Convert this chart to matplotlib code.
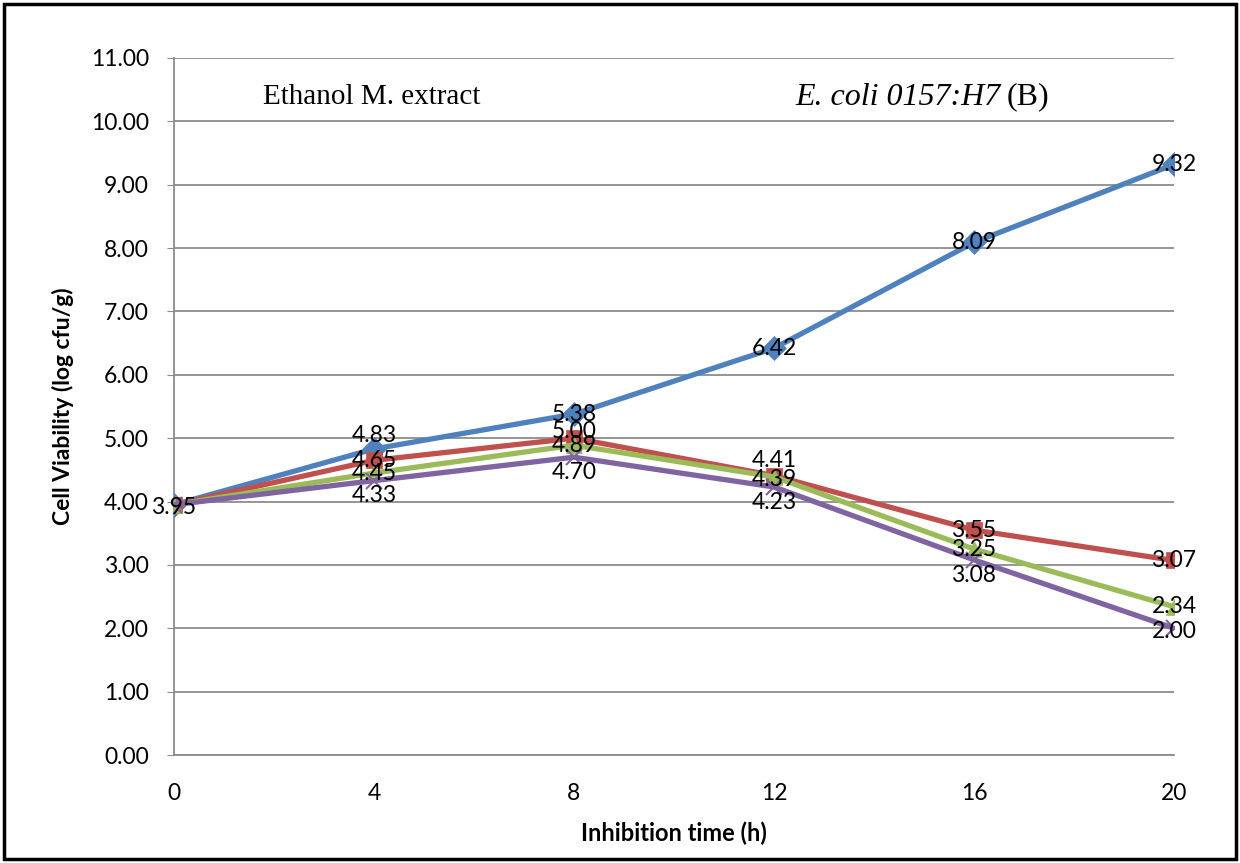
import matplotlib.pyplot as plt
from matplotlib.patches import Rectangle

# data
hours = [0, 4, 8, 12, 16, 20]
blue_vals = [3.95, 4.83, 5.38, 6.42, 8.09, 9.32]
red_vals = [3.95, 4.65, 5.00, 4.41, 3.55, 3.07]
green_vals = [3.95, 4.45, 4.89, 4.39, 3.25, 2.34]
purple_vals = [3.95, 4.33, 4.70, 4.23, 3.08, 2.00]
y_ticks = [i for i in range(12)]

# colour and marker of each series
series = [
    (blue_vals, '#4F81BD', 'D'),
    (red_vals, '#C0504D', 's'),
    (green_vals, '#9BBB59', '^'),
    (purple_vals, '#8064A2', 'x'),
]
# vertical label offsets in points (None = no label, shared start point)
offsets = [
    [-2, 10, 0, 0, 0, 0],
    [None, 0, 5, 11, 0, 0],
    [None, 0, 0, -2, 0, 0],
    [None, -11, -11, -11, -11, -2],
]

fig = plt.figure(figsize=(12.4, 8.63), dpi=100)
ax = fig.add_axes([174 / 1240, 1 - 755 / 863, 1000 / 1240, 697 / 863])

for (vals, col, mk), offs in zip(series, offsets):
    ax.plot(hours, vals, color=col, lw=3.8, marker=mk, markersize=12 if mk != 'x' else 12,
            markeredgewidth=1.5 if mk == 'x' else 0.5, markeredgecolor=col, zorder=3)
    for x, v, o in zip(hours, vals, offs):
        if o is None:
            continue
        ax.annotate('%.2f' % v, (x, v), xytext=(0, o), textcoords='offset points',
                    ha='center', va='center', fontsize=16.5, family='Lato', zorder=5)

ax.set_xlim(0, 20)
ax.set_ylim(0, 11)
ax.set_xticks(hours)
ax.set_yticks(y_ticks)
ax.set_yticklabels(['%.2f' % t for t in y_ticks])
ax.yaxis.grid(True, color='#8c8c8c', lw=1.3)
ax.set_axisbelow(True)
for s in ['top', 'right']:
    ax.spines[s].set_visible(False)
for s in ['left', 'bottom']:
    ax.spines[s].set_color('#8c8c8c')
    ax.spines[s].set_linewidth(1.3)
ax.tick_params(axis='y', length=5, color='#8c8c8c', labelsize=16.5, pad=13)
ax.tick_params(axis='x', length=0, labelsize=16.5, pad=20)
for lab in ax.get_xticklabels() + ax.get_yticklabels():
    lab.set_family('Lato')

ax.set_xlabel('Inhibition time (h)', fontsize=17, fontweight='bold', family='Lato', labelpad=13)
ax.set_ylabel('Cell Viability (log cfu/g)', fontsize=16.5, fontweight='bold', family='Lato', labelpad=12)

ax.text(0.089, 0.944, 'Ethanol M. extract', transform=ax.transAxes, fontsize=21,
        family='Liberation Serif', va='center')
t = ax.text(0.621, 0.944, 'E. coli 0157:H7', transform=ax.transAxes, fontsize=23,
            family='Liberation Serif', style='italic', va='center')
fig.canvas.draw()
bb = t.get_window_extent().transformed(ax.transAxes.inverted())
ax.text(bb.x1 + 0.006, 0.944, '(B)', transform=ax.transAxes, fontsize=23,
        family='Liberation Serif', va='center')

fig.patches.append(Rectangle((4 / 1240, 4 / 863), 1232 / 1240, 855 / 863, transform=fig.transFigure,
                             fill=False, edgecolor='black', lw=2.5))

fig.savefig('out.png', dpi=100)
